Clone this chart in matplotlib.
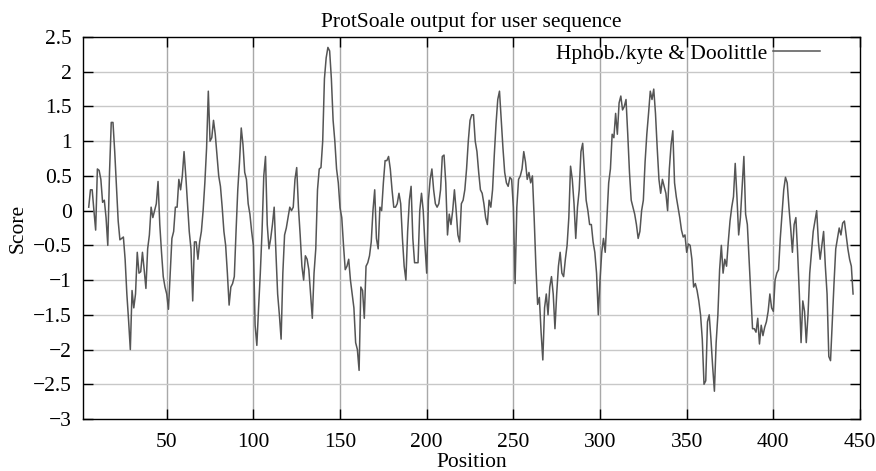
import numpy as np
import matplotlib
matplotlib.use("Agg")
import matplotlib.pyplot as plt

# Kyte & Doolittle hydropathy scores, one per residue, starting at position 5
first_position = 5
scores = [
    0.05, 0.3, 0.3, 0.0, -0.28, 0.6, 0.58, 0.45, 0.12, 0.15,          # 5
    -0.1, -0.5, 0.55, 1.27, 1.27, 0.85, 0.35, -0.15, -0.42, -0.4,     # 15
    -0.38, -0.7, -1.2, -1.58, -2.0, -1.15, -1.4, -1.2, -0.6, -0.9,    # 25
    -0.88, -0.6, -0.85, -1.12, -0.55, -0.35, 0.05, -0.1, 0.0, 0.1,    # 35
    0.42, -0.2, -0.6, -0.95, -1.1, -1.2, -1.42, -0.9, -0.4, -0.3,     # 45
    0.05, 0.05, 0.45, 0.3, 0.5, 0.85, 0.5, 0.1, -0.3, -0.55,          # 55
    -1.3, -0.45, -0.45, -0.7, -0.45, -0.3, 0.0, 0.4, 0.9, 1.72,       # 65
    1.0, 1.05, 1.3, 1.1, 0.8, 0.5, 0.35, 0.05, -0.3, -0.5,            # 75
    -0.9, -1.36, -1.1, -1.05, -0.95, -0.3, 0.3, 0.7, 1.19, 0.95,      # 85
    0.55, 0.45, 0.1, -0.05, -0.3, -0.5, -1.65, -1.94, -1.4, -0.9,     # 95
    -0.3, 0.5, 0.78, -0.2, -0.55, -0.4, -0.2, 0.05, -0.6, -1.2,       # 105
    -1.5, -1.85, -0.9, -0.35, -0.25, -0.1, 0.05, 0.0, 0.05, 0.45,     # 115
    0.62, 0.05, -0.35, -0.8, -1.0, -0.65, -0.7, -0.85, -1.2, -1.55,   # 125
    -0.9, -0.55, 0.3, 0.6, 0.62, 1.0, 1.9, 2.2, 2.35, 2.3,            # 135
    1.9, 1.3, 1.0, 0.6, 0.4, 0.04, -0.1, -0.5, -0.85, -0.8,           # 145
    -0.7, -1.0, -1.2, -1.4, -1.9, -2.0, -2.3, -1.1, -1.15, -1.55,     # 155
    -0.8, -0.75, -0.65, -0.45, 0.0, 0.3, -0.4, -0.55, 0.05, 0.0,      # 165
    0.4, 0.72, 0.72, 0.78, 0.6, 0.3, 0.05, 0.05, 0.1, 0.25,           # 175
    0.1, -0.4, -0.8, -1.0, -0.3, 0.15, 0.35, -0.4, -0.75, -0.75,      # 185
    -0.75, 0.0, 0.25, 0.0, -0.5, -0.9, 0.15, 0.45, 0.6, 0.3,          # 195
    0.1, 0.05, 0.1, 0.3, 0.78, 0.8, 0.4, -0.35, -0.05, -0.2,          # 205
    0.0, 0.3, 0.0, -0.35, -0.45, 0.1, 0.15, 0.3, 0.6, 1.0,            # 215
    1.3, 1.38, 1.38, 1.0, 0.85, 0.55, 0.3, 0.25, 0.1, -0.1,           # 225
    -0.2, 0.15, 0.05, 0.3, 0.8, 1.25, 1.6, 1.72, 1.3, 0.9,            # 235
    0.55, 0.4, 0.35, 0.48, 0.45, 0.05, -1.05, 0.05, 0.45, 0.5,        # 245
    0.6, 0.85, 0.7, 0.45, 0.55, 0.4, 0.5, -0.1, -0.8, -1.35,          # 255
    -1.25, -1.75, -2.15, -1.4, -1.2, -1.5, -1.1, -0.95, -1.2, -1.7,   # 265
    -1.2, -0.8, -0.6, -0.9, -0.95, -0.7, -0.5, -0.1, 0.64, 0.45,      # 275
    0.1, -0.4, 0.05, 0.3, 0.85, 0.97, 0.55, 0.15, 0.0, -0.2,          # 285
    -0.2, -0.45, -0.6, -0.9, -1.5, -1.0, -0.6, -0.4, -0.6, -0.1,      # 295
    0.4, 0.6, 1.1, 1.05, 1.4, 1.1, 1.55, 1.65, 1.45, 1.5,             # 305
    1.6, 1.1, 0.55, 0.15, 0.05, -0.05, -0.2, -0.4, -0.3, 0.0,         # 315
    0.15, 0.7, 1.1, 1.4, 1.72, 1.6, 1.75, 1.4, 0.9, 0.45,             # 325
    0.25, 0.45, 0.35, 0.25, 0.0, 0.6, 0.95, 1.15, 0.4, 0.2,           # 335
    0.05, -0.1, -0.28, -0.38, -0.35, -0.6, -0.48, -0.5, -0.7, -1.1,   # 345
    -1.05, -1.15, -1.3, -1.5, -1.85, -2.5, -2.45, -1.6, -1.5, -1.85,  # 355
    -2.25, -2.6, -1.9, -1.5, -0.85, -0.5, -0.9, -0.7, -0.8, -0.45,    # 365
    -0.15, 0.05, 0.2, 0.68, 0.2, -0.35, -0.1, 0.35, 0.78, -0.05,      # 375
    -0.2, -0.7, -1.2, -1.7, -1.7, -1.75, -1.55, -1.92, -1.65, -1.8,   # 385
    -1.68, -1.6, -1.45, -1.2, -1.4, -1.45, -1.0, -0.9, -0.85, -0.4,   # 395
    -0.05, 0.3, 0.48, 0.4, 0.05, -0.25, -0.6, -0.2, -0.1, -0.6,       # 405
    -1.2, -1.9, -1.3, -1.45, -1.9, -1.5, -0.9, -0.6, -0.3, -0.15,     # 415
    0.0, -0.45, -0.7, -0.5, -0.3, -0.8, -1.2, -2.1, -2.16, -1.6,      # 425
    -1.05, -0.55, -0.4, -0.25, -0.35, -0.18, -0.15, -0.35, -0.55, -0.7,  # 435
    -0.8, -1.2,                                                        # 445
]
positions = np.arange(first_position, first_position + len(scores))

x_ticks = [50, 100, 150, 200, 250, 300, 350, 400, 450]
y_ticks = [2.5, 2, 1.5, 1, 0.5, 0, -0.5, -1, -1.5, -2, -2.5, -3]
y_tick_labels = ["2.5", "2", "1.5", "1", "0.5", "0", "\u22120.5", "\u22121",
                 "\u22121.5", "\u22122", "\u22122.5", "\u22123"]

plt.rcParams["font.family"] = ["Liberation Serif", "DejaVu Serif"]
fs = 15.5

fig = plt.figure(figsize=(8.76, 4.71), dpi=100)
ax = fig.add_axes([83 / 876, 1 - 419 / 471, 777 / 876, 382 / 471])

# grid: darker vertical lines, lighter horizontal ones
for xv in x_ticks[:-1]:
    ax.axvline(xv, color="#a8a8a8", lw=1.0, zorder=0)
for yv in y_ticks[1:-1]:
    ax.axhline(yv, color="#c8c8c8", lw=1.0, zorder=0)

ax.plot(positions, scores, color="#555555", lw=1.1,
        label="Hphob./kyte & Doolittle")

ax.set_xlim(1.7, 450)
ax.set_ylim(-3, 2.5)
ax.set_xticks(x_ticks)
ax.set_yticks(y_ticks)
ax.set_yticklabels(y_tick_labels)
ax.tick_params(direction="in", length=7, width=1, labelsize=fs,
               top=True, right=True, colors="black")
ax.tick_params(axis="y", pad=8)
ax.tick_params(axis="x", pad=10)
for s in ax.spines.values():
    s.set_linewidth(1.0)

ax.set_title("ProtSoale output for user sequence", fontsize=fs, pad=7)
ax.set_xlabel("Position", fontsize=fs, labelpad=1)
ax.set_ylabel("Score", fontsize=fs, labelpad=4)

ax.legend(loc="upper right", bbox_to_anchor=(0.960, 1.005), frameon=False,
          markerfirst=False, handlelength=2.2, handletextpad=0.25,
          fontsize=fs, borderaxespad=0)

fig.savefig("out.png", dpi=100)
